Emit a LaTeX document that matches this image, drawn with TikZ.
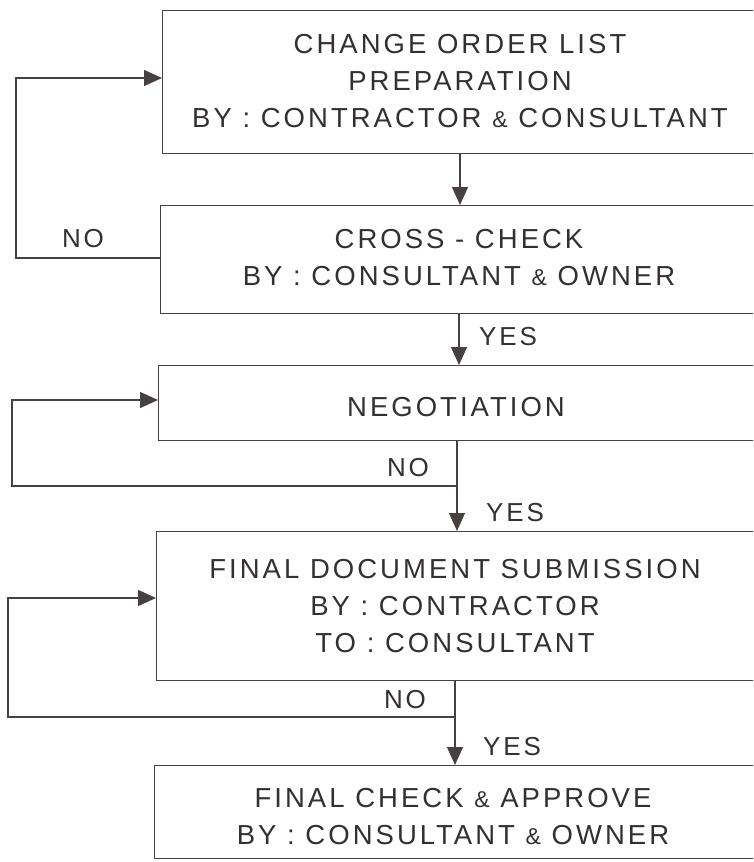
\documentclass[tikz,border=0pt]{standalone}
\usepackage{fontspec}
\setmainfont{Liberation Sans}[LetterSpace=11]
\usetikzlibrary{arrows.meta}
\definecolor{ink}{RGB}{70,64,64}
\definecolor{txt}{RGB}{52,48,48}
\newcommand{\amp}{{\fontsize{23}{23}\selectfont\&}}
\tikzset{
  box/.style={draw=ink, line width=1.3pt, rectangle, anchor=north west, inner sep=0pt},
  label/.style={text=txt, font=\fontsize{27.5}{37}\selectfont, align=center, inner sep=0pt},
  flag/.style={text=txt, font=\fontsize{26}{30}\selectfont, inner sep=0pt},
  link/.style={draw=ink, line width=1.3pt},
  arr/.style={link, -{Triangle[length=18pt,width=16pt]}}
}
\begin{document}
\begin{tikzpicture}[x=1pt,y=-1pt]
\useasboundingbox (0,0) rectangle (753,862);
\clip (0,0) rectangle (753,862);

% process boxes (open to the right edge)
\node[box, minimum width=640pt, minimum height=143pt] (b1) at (162,10) {};
\node[box, minimum width=640pt, minimum height=108pt] (b2) at (160,205) {};
\node[box, minimum width=640pt, minimum height=75pt]  (b3) at (158,365) {};
\node[box, minimum width=640pt, minimum height=149pt] (b4) at (156,531) {};
\node[box, minimum width=640pt, minimum height=93pt]  (b5) at (154,765) {};

% box texts
\node[label] (t1) at (460,81) {CHANGE ORDER LIST\\PREPARATION\\BY : CONTRACTOR \amp{} CONSULTANT};
\node[label] (t2) at (459,258) {CROSS - CHECK\\BY : CONSULTANT \amp{} OWNER};
\node[label] (t3) at (456,407) {NEGOTIATION};
\node[label] (t4) at (455,606) {FINAL DOCUMENT SUBMISSION\\BY : CONTRACTOR\\TO : CONSULTANT};
\node[label] (t5) at (453,817) {FINAL CHECK \amp{} APPROVE\\BY : CONSULTANT \amp{} OWNER};

% main flow columns
\coordinate (c1) at (460,0);
\coordinate (c2) at (459,0);
\coordinate (c3) at (457,0);
\coordinate (c4) at (455,0);

\draw[arr] (b1.south -| c1) -- (b2.north -| c1);
\draw[arr] (b2.south -| c2) -- (b3.north -| c2);
\draw[arr] (b3.south -| c3) -- (b4.north -| c3);
\draw[arr] (b4.south -| c4) -- (b5.north -| c4);

% return loops
\coordinate (l1) at (16,258);
\coordinate (r1) at (0,78);
\draw[arr] (b2.west |- l1) -- (l1) |- (b1.west |- r1);

\coordinate (j2) at (457,486);
\coordinate (l2) at (12,486);
\coordinate (r2) at (0,400);
\draw[arr] (j2) -- (l2) |- (b3.west |- r2);

\coordinate (j3) at (455,717);
\coordinate (l3) at (8,717);
\coordinate (r3) at (0,598);
\draw[arr] (j3) -- (l3) |- (b4.west |- r3);

% branch labels
\node[flag] (no1) at (83,239) {NO};
\node[flag] (no2) at (408,468) {NO};
\node[flag] (no3) at (405,700) {NO};
\node[flag] (y1) at (508,337) {YES};
\node[flag] (y2) at (515,513) {YES};
\node[flag] (y3) at (512,747) {YES};
\end{tikzpicture}
\end{document}
